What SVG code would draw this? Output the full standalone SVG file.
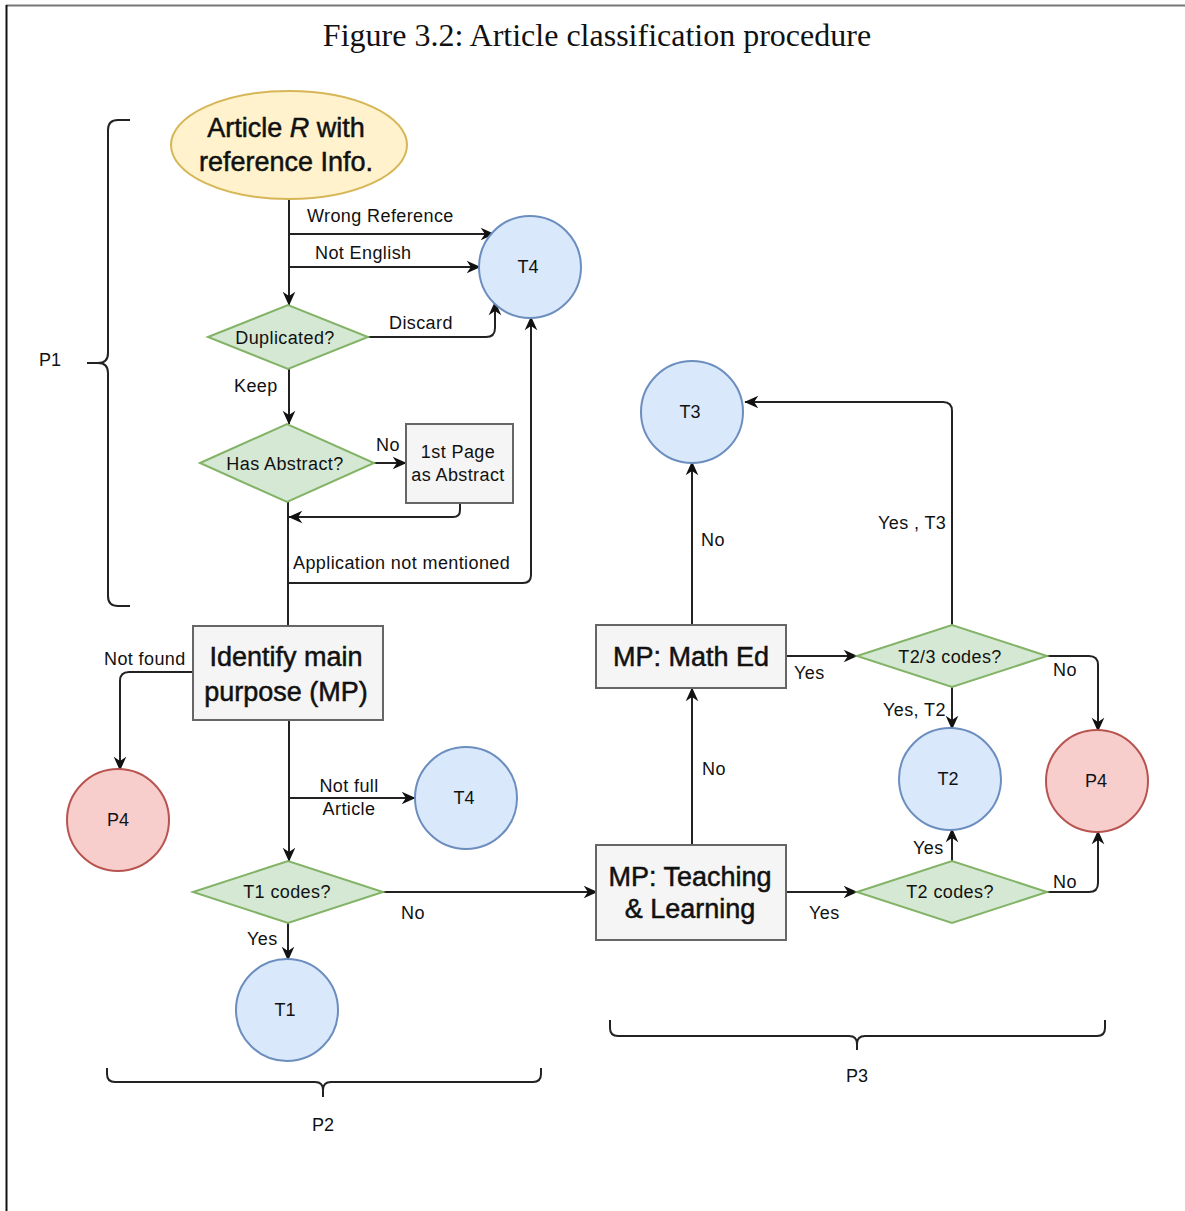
<svg xmlns="http://www.w3.org/2000/svg" width="1185" height="1211" viewBox="0 0 1185 1211">
<defs>
<marker id="arr" viewBox="0 0 10 10" refX="9.5" refY="5" markerWidth="15" markerHeight="14" markerUnits="userSpaceOnUse" orient="auto">
<path d="M0,0.5 L10,5 L0,9.5 L3,5 z" fill="#111"/>
</marker>
<style>
.c{fill:none;stroke:#222;stroke-width:2}
.a{marker-end:url(#arr)}
.br{fill:none;stroke:#222;stroke-width:2}
.blue{fill:#dae8fc;stroke:#6c8ebf;stroke-width:2}
.red{fill:#f8cecc;stroke:#b85450;stroke-width:2}
.dia{fill:#d5e8d4;stroke:#82b366;stroke-width:2}
.box{fill:#f5f5f5;stroke:#666;stroke-width:2}
.t{font-family:"Liberation Sans",Arial,sans-serif;fill:#111;text-anchor:middle}
.s{font-size:18px;letter-spacing:0.4px}
.n{font-size:18px}
.big{font-size:27px;stroke:#111;stroke-width:0.5}
.lab{font-family:"Liberation Sans",Arial,sans-serif;font-size:18px;fill:#111;letter-spacing:0.4px}
</style>
</defs>
<rect width="1185" height="1211" fill="#fff"/>
<line x1="6" y1="5.5" x2="1185" y2="5.5" stroke="#777" stroke-width="2"/>
<line x1="6.5" y1="5" x2="6.5" y2="1211" stroke="#111" stroke-width="2"/>
<text x="597" y="46" font-family="Liberation Serif,serif" font-size="32" text-anchor="middle" fill="#111">Figure 3.2: Article classification procedure</text>

<g id="connectors">
<path class="c a" d="M289,199 V305"/>
<path class="c a" d="M289,234 H494"/>
<path class="c a" d="M289,267 H480"/>
<path class="c a" d="M368,337 H486 Q495,337 495,328 V302"/>
<path class="c a" d="M289,369 V424"/>
<path class="c a" d="M374,463 H406"/>
<path class="c a" d="M460,503 V510 Q460,517 453,517 H289"/>
<path class="c" d="M288,502 V626"/>
<path class="c a" d="M288,583 H523 Q531,583 531,575 V317"/>
<path class="c a" d="M193,672 H129 Q120,672 120,681 V770"/>
<path class="c a" d="M289,720 V861"/>
<path class="c a" d="M289,798 H415"/>
<path class="c a" d="M383,892 H597"/>
<path class="c a" d="M288,923 V960"/>
<path class="c a" d="M692,625 V462"/>
<path class="c a" d="M786,656 H857"/>
<path class="c a" d="M952,625 V411 Q952,402 943,402 H745"/>
<path class="c a" d="M1047,656 H1089 Q1098,656 1098,665 V731"/>
<path class="c a" d="M952,687 V729"/>
<path class="c a" d="M692,845 V688"/>
<path class="c a" d="M786,892 H857"/>
<path class="c a" d="M952,861 V829"/>
<path class="c a" d="M1047,892 H1089 Q1098,892 1098,883 V831"/>
</g>

<g id="labels">
<text class="lab" x="307" y="222">Wrong Reference</text>
<text class="lab" x="315" y="259">Not English</text>
<text class="lab" x="389" y="329">Discard</text>
<text class="lab" x="234" y="392">Keep</text>
<text class="lab" x="376" y="451">No</text>
<text class="lab" x="293" y="569">Application not mentioned</text>
<text class="lab" x="104" y="665">Not found</text>
<text class="t s" x="349" y="792">Not full</text>
<text class="t s" x="349" y="815">Article</text>
<text class="lab" x="401" y="919">No</text>
<text class="lab" x="247" y="945">Yes</text>
<text class="lab" x="701" y="546">No</text>
<text class="lab" x="794" y="679">Yes</text>
<text class="lab" x="878" y="529">Yes , T3</text>
<text class="lab" x="1053" y="676">No</text>
<text class="lab" x="883" y="716">Yes, T2</text>
<text class="lab" x="702" y="775">No</text>
<text class="lab" x="809" y="919">Yes</text>
<text class="lab" x="913" y="854">Yes</text>
<text class="lab" x="1053" y="888">No</text>
</g>

<g id="braces">
<path class="br" d="M130,120 H118 Q108,120 108,130 V353 Q108,363 98,363 H87 M98,363 Q108,363 108,373 V596 Q108,606 118,606 H130"/>
<text class="t n" x="50" y="366">P1</text>
<path class="br" d="M107,1068 V1074 Q107,1082 115,1082 H315 Q323,1082 323,1090 V1097 M323,1090 Q323,1082 331,1082 H533 Q541,1082 541,1074 V1068"/>
<text class="t n" x="323" y="1131">P2</text>
<path class="br" d="M610,1020 V1028 Q610,1036 618,1036 H849 Q857,1036 857,1044 V1050 M857,1044 Q857,1036 865,1036 H1097 Q1105,1036 1105,1028 V1020"/>
<text class="t n" x="857" y="1082">P3</text>
</g>

<g id="start">
<ellipse cx="289" cy="145" rx="118" ry="54" fill="#fff2cc" stroke="#d6b656" stroke-width="2"/>
<text class="t big" x="286" y="137">Article <tspan font-style="italic">R</tspan> with</text>
<text class="t big" x="286" y="171">reference Info.</text>
</g>
<g id="t4a"><circle class="blue" cx="530" cy="267" r="51"/><text class="t n" x="528" y="273">T4</text></g>
<g id="duplicated"><path class="dia" d="M208,337 L288,305 L368,337 L288,369 Z"/><text class="t s" x="285" y="344">Duplicated?</text></g>
<g id="hasabstract"><path class="dia" d="M200,463 L287,424 L374,463 L287,502 Z"/><text class="t s" x="285" y="470">Has Abstract?</text></g>
<g id="firstpage"><rect class="box" x="406" y="424" width="107" height="79"/><text class="t s" x="458" y="458">1st Page</text><text class="t s" x="458" y="481">as Abstract</text></g>
<g id="identify"><rect class="box" x="193" y="626" width="190" height="94"/><text class="t big" x="286" y="666">Identify main</text><text class="t big" x="286" y="701">purpose (MP)</text></g>
<g id="p4a"><circle class="red" cx="118" cy="820" r="51"/><text class="t n" x="118" y="826">P4</text></g>
<g id="t4b"><circle class="blue" cx="466" cy="798" r="51"/><text class="t n" x="464" y="804">T4</text></g>
<g id="t1codes"><path class="dia" d="M193,892 L288,861 L383,892 L288,923 Z"/><text class="t s" x="287" y="898">T1 codes?</text></g>
<g id="t1"><circle class="blue" cx="287" cy="1010" r="51"/><text class="t n" x="285" y="1016">T1</text></g>
<g id="t3"><circle class="blue" cx="692" cy="412" r="51"/><text class="t n" x="690" y="418">T3</text></g>
<g id="mathed"><rect class="box" x="596" y="625" width="190" height="63"/><text class="t big" x="691" y="666">MP: Math Ed</text></g>
<g id="t23codes"><path class="dia" d="M857,656 L952,625 L1047,656 L952,687 Z"/><text class="t s" x="950" y="663">T2/3 codes?</text></g>
<g id="t2"><circle class="blue" cx="950" cy="779" r="51"/><text class="t n" x="948" y="785">T2</text></g>
<g id="p4b"><circle class="red" cx="1097" cy="781" r="51"/><text class="t n" x="1096" y="787">P4</text></g>
<g id="teaching"><rect class="box" x="596" y="845" width="190" height="95"/><text class="t big" x="690" y="886">MP: Teaching</text><text class="t big" x="690" y="918">&amp; Learning</text></g>
<g id="t2codes"><path class="dia" d="M857,892 L952,861 L1047,892 L952,923 Z"/><text class="t s" x="950" y="898">T2 codes?</text></g>
</svg>
